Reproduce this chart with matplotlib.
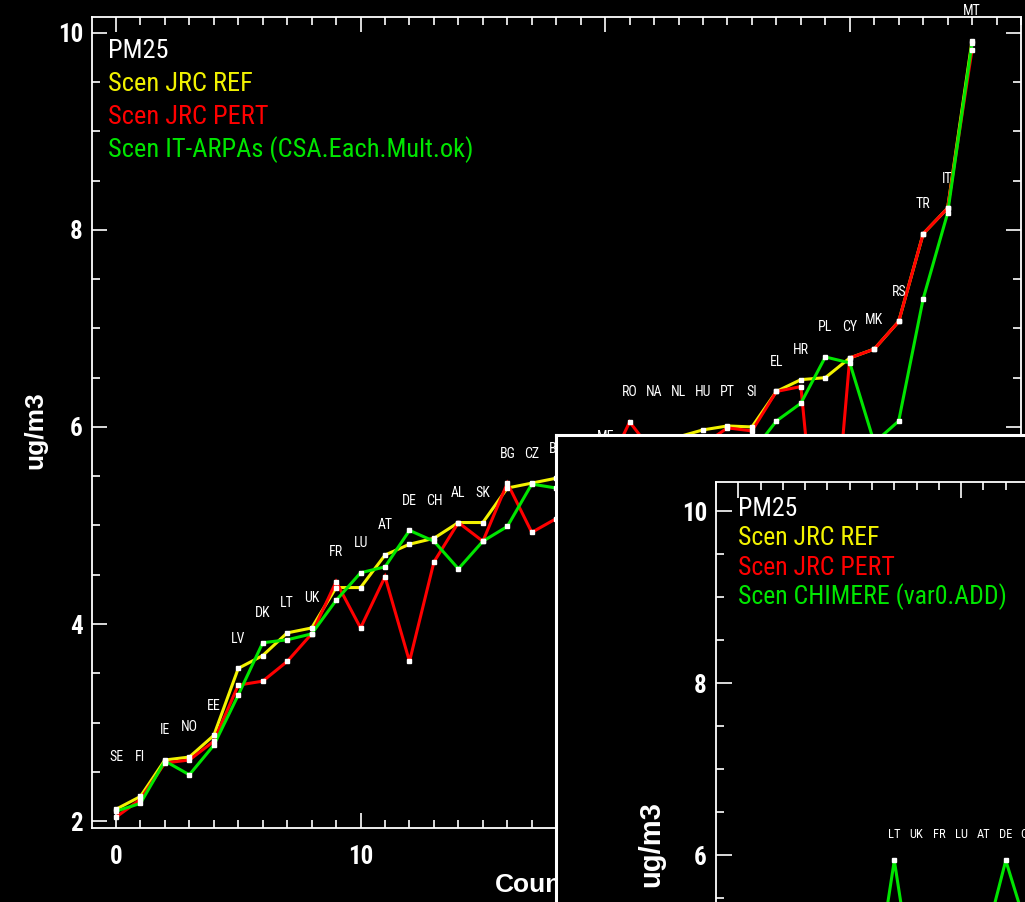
import numpy as np
import matplotlib
matplotlib.use("Agg")
import matplotlib.pyplot as plt
from matplotlib import font_manager
from matplotlib.ticker import FixedLocator, MultipleLocator

# ---------------- data ----------------
countries = ["SE", "FI", "IE", "NO", "EE", "LV", "DK", "LT", "UK", "FR",
             "LU", "AT", "DE", "CH", "AL", "SK", "BG", "CZ", "BE", "ES",
             "ME", "RO", "NA", "NL", "HU", "PT", "SI", "EL", "HR", "PL",
             "CY", "MK", "RS", "TR", "IT", "MT"]

jrc_ref = [2.12, 2.25, 2.62, 2.65, 2.87, 3.55, 3.68, 3.91, 3.96, 4.37,
           4.37, 4.70, 4.81, 4.87, 5.03, 5.03, 5.38, 5.43, 5.48, 5.50,
           5.60, 5.80, 5.86, 5.90, 5.97, 6.01, 6.00, 6.36, 6.48, 6.50,
           6.70, 6.79, 7.07, 7.96, 8.22, 9.92]

jrc_pert = [2.04, 2.22, 2.59, 2.62, 2.81, 3.38, 3.42, 3.62, 3.90, 4.43,
            3.96, 4.48, 3.62, 4.63, 5.03, 4.84, 5.43, 4.93, 5.07, 5.25,
            5.53, 6.05, 5.73, 5.75, 5.82, 5.99, 5.96, 6.36, 6.41, 3.85,
            6.70, 6.79, 7.07, 7.96, 8.22, 9.83]

it_arpa = [2.10, 2.18, 2.61, 2.47, 2.77, 3.28, 3.81, 3.84, 3.90, 4.24,
           4.52, 4.58, 4.95, 4.84, 4.56, 4.84, 4.99, 5.42, 5.38, 5.40,
           5.55, 5.70, 5.68, 5.78, 5.80, 5.85, 5.74, 6.06, 6.24, 6.71,
           6.65, 5.84, 6.06, 7.30, 8.17, 9.90]

chimere = [2.45, 2.60, 3.00, 2.90, 3.30, 3.90, 4.26, 5.94, 4.26, 4.60,
           4.70, 4.93, 5.94, 5.10, 5.00, 5.20, 5.40, 5.60, 5.55, 5.70,
           5.90, 6.00, 5.95, 6.05, 6.10, 6.15, 6.10, 6.40, 6.55, 6.80,
           6.90, 6.60, 6.80, 7.60, 8.40, 10.10]

x_tick_values = [0, 10, 20, 30]
y_tick_values = [2, 4, 6, 8, 10]

main_legend = ["PM25", "Scen JRC REF", "Scen JRC PERT",
               "Scen IT-ARPAs (CSA.Each.Mult.ok)"]
inset_legend = ["PM25", "Scen JRC REF", "Scen JRC PERT",
                "Scen CHIMERE (var0.ADD)"]

# ---------------- style ----------------
YELLOW = "#f2f200"
RED = "#ff0000"
GREEN = "#00e600"
WHITE = "#ffffff"
series_colors = [YELLOW, RED, GREEN]
legend_colors = [WHITE, YELLOW, RED, GREEN]

_installed = {f.name for f in font_manager.fontManager.ttflist}


def pick_font(candidates):
    for name in candidates:
        if name in _installed:
            return name
    return "DejaVu Sans"


NARROW = pick_font(["Liberation Sans Narrow", "Roboto Condensed",
                    "Open Sans Condensed", "Liberation Sans"])
WIDE = pick_font(["Liberation Sans", "Arimo", "DejaVu Sans"])

plt.rcParams["font.family"] = [NARROW, "DejaVu Sans"]

W, H = 1025, 902
fig = plt.figure(figsize=(W / 100, H / 100), dpi=100, facecolor="black")


def frac_box(left_px, top_px, right_px, bottom_px):
    return [left_px / W, (H - bottom_px) / H,
            (right_px - left_px) / W, (bottom_px - top_px) / H]


def style_axes(ax, major_len, minor_len, show_xlabels=True):
    ax.set_facecolor("black")
    for sp in ax.spines.values():
        sp.set_color(WHITE)
        sp.set_linewidth(1.3)
    ax.xaxis.set_major_locator(FixedLocator(x_tick_values))
    ax.xaxis.set_minor_locator(MultipleLocator(1))
    ax.yaxis.set_major_locator(FixedLocator(y_tick_values))
    ax.yaxis.set_minor_locator(MultipleLocator(0.5))
    ax.tick_params(which="both", direction="in", colors=WHITE,
                   top=True, right=True, width=1.2)
    ax.tick_params(which="major", length=major_len, pad=6.5)
    ax.tick_params(which="minor", length=minor_len)
    ax.tick_params(axis="x", which="major", pad=12,
                   labelbottom=show_xlabels)
    ax.set_xticklabels([str(v) for v in x_tick_values])
    ax.set_yticklabels([str(v) for v in y_tick_values])
    for lab in ax.get_xticklabels() + ax.get_yticklabels():
        lab.set_fontsize(18)
        lab.set_fontweight("bold")
        lab.set_color(WHITE)


def draw_series(ax, values_list, names, label_size):
    x = np.arange(len(names))
    for vals, col in zip(values_list, series_colors):
        ax.plot(x, vals, color=col, lw=2.2, zorder=3, solid_joinstyle="miter")
    for vals in values_list:
        ax.plot(x, vals, ls="none", marker="s", ms=2.6, mfc=WHITE,
                mec=WHITE, zorder=4)
    # country names sit above the running maximum of all series
    top = np.maximum.accumulate(np.max(np.array(values_list), axis=0))
    label_y = np.maximum(top + 0.3, 2.65)
    for xi, yi, name in zip(x, label_y, names):
        px, py = ax.transData.transform((xi, yi))
        # names that would land outside the canvas are left out
        if px > W + 8 or py < -8:
            continue
        ax.text(xi, yi, name, color=WHITE, fontsize=label_size,
                ha="center", va="center", zorder=5)


def draw_legend(ax, lines, x0, y0, step, size):
    for i, (txt, col) in enumerate(zip(lines, legend_colors)):
        ax.text(x0, y0 - i * step, txt, color=col, fontsize=size,
                ha="left", va="center", transform=ax.transAxes, zorder=6)


# ---------------- main panel ----------------
ax = fig.add_axes(frac_box(92, 17, 1021, 828))
style_axes(ax, major_len=11, minor_len=5.5)
ax.set_xlim(-0.98, 37.0)
ax.set_ylim(1.93, 10.16)
draw_series(ax, [jrc_ref, jrc_pert, it_arpa], countries, 10)
draw_legend(ax, main_legend, 0.0172, 0.9575, 0.0405, 19)
ax.set_ylabel("ug/m3", color=WHITE, fontsize=19, fontweight="bold",
              family=[WIDE, "DejaVu Sans"])
ax.yaxis.set_label_coords(-0.048, 0.49)
ax.set_xlabel("Countries", color=WHITE, fontsize=19, fontweight="bold",
              family=[WIDE, "DejaVu Sans"])
ax.xaxis.set_label_coords(0.4995, -0.0555)

# ---------------- overlaid second panel ----------------
panel = fig.add_axes(frac_box(556, 435, 1300, 1100), zorder=5)
panel.set_facecolor("black")
panel.set_xticks([])
panel.set_yticks([])
for side in ("right", "bottom"):
    panel.spines[side].set_visible(False)
for side in ("left", "top"):
    panel.spines[side].set_color(WHITE)
    panel.spines[side].set_linewidth(2.2)

ax2 = fig.add_axes(frac_box(716, 482, 1563, 1208), zorder=6)
style_axes(ax2, major_len=11.5, minor_len=5.5, show_xlabels=False)
ax2.set_xlim(-1.0, 37.0)
ax2.set_ylim(1.90, 10.34)
draw_series(ax2, [jrc_ref, jrc_pert, chimere], countries, 9)
draw_legend(ax2, inset_legend, 0.026, 0.9628, 0.0404, 18.5)
ax2.set_ylabel("ug/m3", color=WHITE, fontsize=21, fontweight="bold",
               family=[WIDE, "DejaVu Sans"])
ax2.yaxis.set_label_coords(-0.060, 0.501)

fig.savefig("out.png", dpi=100, facecolor="black")
